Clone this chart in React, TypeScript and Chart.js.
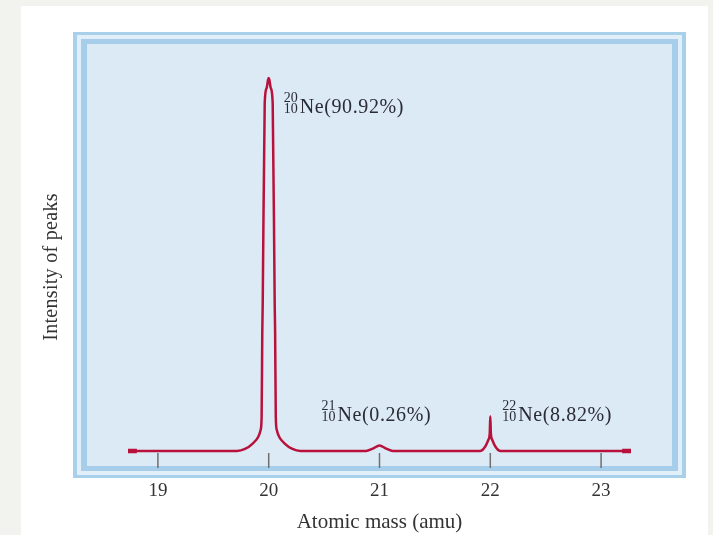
import { useEffect, useRef } from 'react';
import Chart from 'chart.js/auto';

// Neon mass spectrum
const X_TICKS = [19, 20, 21, 22, 23];

const SPECTRUM_X = [
  18.73, 19.62, 19.713, 19.786, 19.858, 19.906, 19.927, 19.936, 19.942, 19.946, 19.964, 19.982, 19.994, 20.0,
  20.006, 20.018, 20.036, 20.054, 20.058, 20.064, 20.073, 20.094, 20.142, 20.214, 20.287,
  20.878, 20.94, 21.0, 21.06, 21.12,
  21.907, 21.953, 21.982, 21.995, 22.0, 22.005, 22.018, 22.047, 22.093, 23.27,
];
const SPECTRUM_Y = [
  0, 0, 0, 0.49, 1.88, 3.49, 5.12, 8.37, 28.8, 36.1, 84.9, 88.6, 90.6, 91.0,
  90.6, 88.6, 84.9, 36.1, 28.8, 8.37, 5.12, 3.49, 1.88, 0.49, 0,
  0, 0.6, 1.35, 0.6, 0,
  0, 1.05, 2.7, 4.3, 8.5, 4.3, 2.7, 1.05, 0, 0,
];

const PEAK_MASS = [20, 21, 22];
const MASS_NUMBER = ['20', '21', '22'];
const ATOMIC_NUMBER = ['10', '10', '10'];
const ABUNDANCE = ['Ne(90.92%)', 'Ne(0.26%)', 'Ne(8.82%)'];

const LINE = '#b8123c';
const SERIF = '"Liberation Serif", "DejaVu Serif", serif';
// label placement: offset from the peak pixel, and text baseline
const LABEL_DX = [15, -58, 12];
const LABEL_BASE = [113, 421, 421];

const framePlugin = {
  id: 'frame',
  beforeDraw(chart: any) {
    const { ctx, chartArea: a } = chart;
    const layers: [number, number, string][] = [
      [14, 12, '#a9d0ea'],
      [10, 9, '#e2eff9'],
      [6, 5, '#a6cde9'],
    ];
    ctx.save();
    for (const [h, v, c] of layers) {
      ctx.fillStyle = c;
      ctx.fillRect(a.left - h, a.top - v, a.width + 2 * h, a.height + 2 * v);
    }
    ctx.fillStyle = '#dbeaf5';
    ctx.fillRect(a.left, a.top, a.width, a.height);
    ctx.restore();
  },
  beforeDatasetsDraw(chart: any) {
    const { ctx, chartArea: a, scales } = chart;
    const y0 = scales.y.getPixelForValue(0);
    ctx.save();
    ctx.strokeStyle = '#6f6f6f';
    ctx.lineWidth = 1.5;
    for (const t of scales.x.ticks) {
      const px = scales.x.getPixelForValue(t.value);
      ctx.beginPath();
      ctx.moveTo(px, y0 + 2);
      ctx.lineTo(px, a.bottom + 2);
      ctx.stroke();
    }
    ctx.restore();
  },
  afterDatasetsDraw(chart: any) {
    const { ctx, chartArea: a, scales } = chart;
    ctx.save();
    ctx.fillStyle = '#2b2b36';
    ctx.textAlign = 'left';
    ctx.textBaseline = 'alphabetic';
    PEAK_MASS.forEach((m, i) => {
      const x0 = scales.x.getPixelForValue(m) + LABEL_DX[i];
      const base = LABEL_BASE[i];
      ctx.font = `14px ${SERIF}`;
      ctx.letterSpacing = '0px';
      ctx.fillText(MASS_NUMBER[i], x0, base - 11);
      ctx.fillText(ATOMIC_NUMBER[i], x0, base);
      ctx.font = `20px ${SERIF}`;
      ctx.letterSpacing = '0.6px';
      ctx.fillText(ABUNDANCE[i], x0 + 16, base);
    });
    // y axis title
    ctx.letterSpacing = '0.3px';
    ctx.fillStyle = '#333';
    ctx.font = `20px ${SERIF}`;
    ctx.textAlign = 'center';
    ctx.translate(56.5, (a.top + a.bottom) / 2 + 12);
    ctx.rotate(-Math.PI / 2);
    ctx.fillText('Intensity of peaks', 0, 0);
    ctx.restore();
  },
};

export default function App() {
  const canvasRef = useRef<HTMLCanvasElement>(null);

  useEffect(() => {
    if (!canvasRef.current) return;
    const first = SPECTRUM_X[0];
    const last = SPECTRUM_X[SPECTRUM_X.length - 1];

    const chart = new Chart(canvasRef.current, {
      type: 'line',
      data: {
        datasets: [
          {
            data: SPECTRUM_X.map((x, i) => ({ x, y: SPECTRUM_Y[i] })),
            borderColor: LINE,
            borderWidth: 2.5,
            pointRadius: 0,
            cubicInterpolationMode: 'monotone',
            borderJoinStyle: 'round',
            fill: false,
          },
          {
            data: [{ x: first, y: 0 }, { x: first + 0.08, y: 0 }],
            borderColor: LINE,
            borderWidth: 4.5,
            pointRadius: 0,
          },
          {
            data: [{ x: last - 0.08, y: 0 }, { x: last, y: 0 }],
            borderColor: LINE,
            borderWidth: 4.5,
            pointRadius: 0,
          },
        ],
      },
      options: {
        animation: false,
        responsive: false,
        layout: { padding: { left: 87, right: 41, top: 44, bottom: 0 } },
        plugins: { legend: { display: false }, tooltip: { enabled: false } },
        scales: {
          x: {
            type: 'linear',
            min: 18.36,
            max: 23.64,
            afterBuildTicks: (scale: any) => {
              scale.ticks = X_TICKS.map((v) => ({ value: v }));
            },
            afterFit: (scale: any) => {
              scale.height = 69;
            },
            grid: { display: false, drawTicks: false },
            border: { display: false },
            ticks: {
              padding: 14,
              color: '#333',
              font: { family: SERIF, size: 19 },
              callback: (v: any) => String(v),
            },
            title: {
              display: true,
              text: 'Atomic mass (amu)',
              color: '#333',
              font: { family: SERIF, size: 21 },
              padding: { top: 0, bottom: 0 },
            },
          },
          y: {
            type: 'linear',
            display: false,
            min: -3.66,
            max: 99.3,
          },
        },
      },
      plugins: [framePlugin],
    });

    return () => chart.destroy();
  }, []);

  return (
    <div style={{ position: 'absolute', left: 0, top: 0, width: 713, height: 535, background: '#f2f2ee', overflow: 'hidden' }}>
      <div style={{ position: 'absolute', left: 21, top: 6, width: 687, height: 540, background: '#fff' }} />
      <canvas ref={canvasRef} width={713} height={535} style={{ position: 'absolute', left: 0, top: 0 }} />
    </div>
  );
}
